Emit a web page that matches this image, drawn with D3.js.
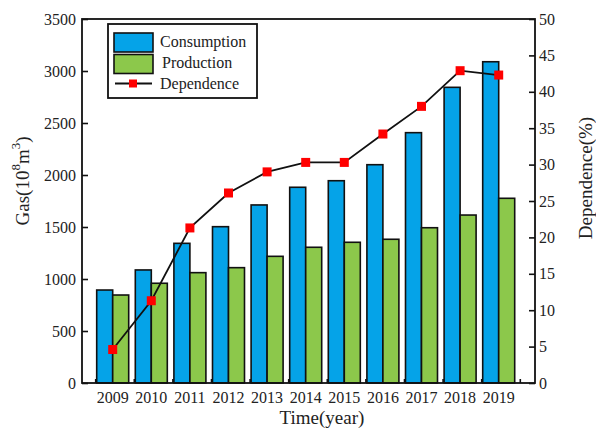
<!DOCTYPE html>
<html>
<head>
<meta charset="utf-8">
<script src="https://cdn.jsdelivr.net/npm/d3@7/dist/d3.min.js"></script>
<style>
  html, body { margin: 0; padding: 0; background: #fff; }
  svg { display: block; }
  text { font-family: "Liberation Serif", "Times New Roman", serif; fill: #222; }
</style>
</head>
<body>
<svg id="chart" width="596" height="430"></svg>
<script>
// Natural gas in China, 2009-2019
const years = [2009, 2010, 2011, 2012, 2013, 2014, 2015, 2016, 2017, 2018, 2019];
const consumption = [894, 1087, 1343, 1503, 1712, 1882, 1945, 2099, 2407, 2843, 3089];   // 10^8 m^3
const production  = [846, 959, 1061, 1109, 1218, 1305, 1353, 1382, 1493, 1615, 1776];    // 10^8 m^3
const dependence  = [4.6, 11.3, 21.3, 26.1, 29.0, 30.3, 30.3, 34.2, 38.0, 42.9, 42.3];   // %
const gasTicks = [0, 500, 1000, 1500, 2000, 2500, 3000, 3500];
const depTicks = [0, 5, 10, 15, 20, 25, 30, 35, 40, 45, 50];

const svg = d3.select("#chart");
const frame = { left: 82, right: 535, top: 19, bottom: 383 };
const serif = '"Liberation Serif", "Times New Roman", serif';

const yGas = d3.scaleLinear().domain([0, 3500]).range([frame.bottom, frame.top]);
const yDep = d3.scaleLinear().domain([0, 50]).range([frame.bottom, frame.top]);
const xSlot = d3.scaleBand().domain(years).range([95.7, 520.3]).padding(0);
const xSub = d3.scaleBand().domain(["c", "p"]).range([1, 33]);
const center = y => xSlot(y) + 17;

const blue = "#05a3e8", green = "#8cc84b";

// Bars
const g = svg.append("g");
years.forEach((yr, i) => {
  g.append("rect")
    .attr("x", xSlot(yr) + xSub("c")).attr("width", xSub.bandwidth())
    .attr("y", yGas(consumption[i])).attr("height", yGas(0) - yGas(consumption[i]))
    .attr("fill", blue).attr("stroke", "#111").attr("stroke-width", 1.6);
  g.append("rect")
    .attr("x", xSlot(yr) + xSub("p")).attr("width", xSub.bandwidth())
    .attr("y", yGas(production[i])).attr("height", yGas(0) - yGas(production[i]))
    .attr("fill", green).attr("stroke", "#111").attr("stroke-width", 1.6);
});

// Frame
svg.append("rect")
  .attr("x", frame.left).attr("y", frame.top)
  .attr("width", frame.right - frame.left).attr("height", frame.bottom - frame.top)
  .attr("fill", "none").attr("stroke", "#111").attr("stroke-width", 1.8);

// Left axis (ticks point inward)
const leftAxis = svg.append("g").attr("transform", `translate(${frame.left},0)`)
  .call(d3.axisLeft(yGas).tickValues(gasTicks).tickFormat(d3.format("d")).tickSize(-6).tickPadding(6));
leftAxis.select(".domain").remove();
leftAxis.selectAll("line").attr("stroke", "#111").attr("stroke-width", 1.6);
leftAxis.selectAll("text").attr("font-size", 16).attr("fill", "#222").style("font-family", serif);

// Right axis
const rightAxis = svg.append("g").attr("transform", `translate(${frame.right},0)`)
  .call(d3.axisRight(yDep).tickValues(depTicks).tickFormat(d3.format("d")).tickSize(-6).tickPadding(4));
rightAxis.select(".domain").remove();
rightAxis.selectAll("line").attr("stroke", "#111").attr("stroke-width", 1.6);
rightAxis.selectAll("text").attr("font-size", 16).attr("fill", "#222").style("font-family", serif);

// Bottom ticks at the slot boundaries, labels under each group
const bounds = years.map(y => xSlot(y)).concat([xSlot(years[years.length - 1]) + xSlot.step()]);
svg.append("g").selectAll("line").data(bounds).join("line")
  .attr("x1", d => d).attr("x2", d => d)
  .attr("y1", frame.bottom).attr("y2", frame.bottom - 4)
  .attr("stroke", "#111").attr("stroke-width", 1.6);
svg.append("g").selectAll("text").data(years).join("text")
  .attr("x", d => center(d)).attr("y", 403)
  .attr("text-anchor", "middle").attr("font-size", 16)
  .text(d => d);

// Dependence line with square markers
const line = d3.line().x((d, i) => center(years[i])).y(d => yDep(d));
svg.append("path").datum(dependence)
  .attr("d", line).attr("fill", "none").attr("stroke", "#111").attr("stroke-width", 1.8);
svg.append("g").selectAll("rect").data(dependence).join("rect")
  .attr("x", (d, i) => center(years[i]) - 4.5).attr("y", d => yDep(d) - 4.5)
  .attr("width", 9).attr("height", 9).attr("fill", "#ff0000");

// Axis titles
svg.append("text").attr("transform", "translate(22,181) rotate(-90)")
  .attr("text-anchor", "middle").attr("dominant-baseline", "central").attr("font-size", 19)
  .call(t => {
    t.append("tspan").text("Gas(10");
    t.append("tspan").attr("font-size", 13).attr("dy", -7).text("8");
    t.append("tspan").attr("dy", 7).text("m");
    t.append("tspan").attr("font-size", 13).attr("dy", -7).text("3");
    t.append("tspan").attr("dy", 7).text(")");
  });
svg.append("text").attr("transform", "translate(585,178) rotate(-90)")
  .attr("text-anchor", "middle").attr("dominant-baseline", "central").attr("font-size", 19)
  .text("Dependence(%)");
svg.append("text").attr("x", 322).attr("y", 424)
  .attr("text-anchor", "middle").attr("font-size", 19).text("Time(year)");

// Legend
const lg = svg.append("g");
lg.append("rect").attr("x", 108).attr("y", 24).attr("width", 149).attr("height", 74)
  .attr("fill", "#fff").attr("stroke", "#111").attr("stroke-width", 1.8);
lg.append("rect").attr("x", 114).attr("y", 33).attr("width", 39).attr("height", 19)
  .attr("fill", blue).attr("stroke", "#111").attr("stroke-width", 1.6);
lg.append("rect").attr("x", 114).attr("y", 54.5).attr("width", 39).attr("height", 19)
  .attr("fill", green).attr("stroke", "#111").attr("stroke-width", 1.6);
lg.append("line").attr("x1", 115).attr("x2", 152).attr("y1", 83.5).attr("y2", 83.5)
  .attr("stroke", "#111").attr("stroke-width", 1.8);
lg.append("rect").attr("x", 129).attr("y", 79.5).attr("width", 8).attr("height", 8).attr("fill", "#ff0000");
lg.append("text").attr("x", 160).attr("y", 47).attr("font-size", 16).text("Consumption");
lg.append("text").attr("x", 162).attr("y", 68).attr("font-size", 16).text("Production");
lg.append("text").attr("x", 160).attr("y", 89).attr("font-size", 16).text("Dependence");
</script>
</body>
</html>
